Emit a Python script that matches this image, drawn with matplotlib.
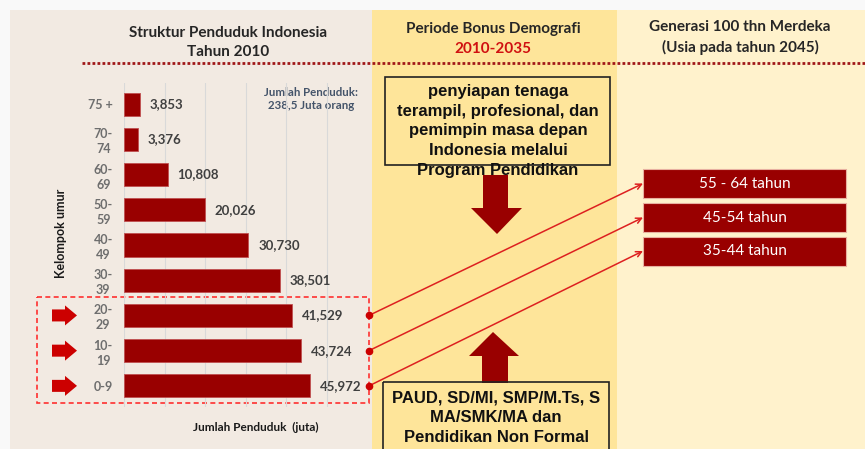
import numpy as np
import matplotlib.pyplot as plt
from matplotlib.patches import Rectangle, Polygon

# data (penduduk dalam ribuan)
age_groups = ['0-9', '10-\n19', '20-\n29', '30-\n39', '40-\n49',
              '50-\n59', '60-\n69', '70-\n74', '75 +']
population = [45972, 43724, 41529, 38501, 30730, 20026, 10808, 3376, 3853]
highlight_rows = [2, 1, 0]
target_groups = ['55 - 64 tahun', '45-54 tahun', '35-44 tahun']
grid_ticks = [0, 10, 20, 30, 40, 50]

top_box_text = ('penyiapan tenaga\nterampil, profesional, dan\npemimpin masa depan\n'
                'Indonesia melalui\nProgram Pendidikan')
bottom_box_text = 'PAUD, SD/MI, SMP/M.Ts, S\nMA/SMK/MA dan\nPendidikan Non Formal'

W, H = 865, 449
DARK_RED = '#990000'
CAL = 'Lato'
ARIAL = 'Liberation Sans'

fig = plt.figure(figsize=(W / 100, H / 100), dpi=100)
fig.patch.set_facecolor('#f9f9f9')

# background axes in pixel coordinates
bg = fig.add_axes([0, 0, 1, 1], zorder=0)
bg.set_xlim(0, W)
bg.set_ylim(H, 0)
bg.axis('off')

bg.add_patch(Rectangle((10, 10), 362, H, color='#f2eae2', lw=0))
bg.add_patch(Rectangle((372, 10), 245, H, color='#fee59a', lw=0))
bg.add_patch(Rectangle((617, 10), W - 617, H, color='#fff2cc', lw=0))

# headers
hdr = dict(ha='center', va='center', fontsize=11, fontweight='bold', family=CAL)
bg.text(228, 33, 'Struktur Penduduk Indonesia', color='#262626', **hdr)
bg.text(228, 52, 'Tahun 2010', color='#262626', **hdr)
bg.text(493, 29, 'Periode Bonus Demografi', color='#262626', **hdr)
bg.text(493, 49, '2010-2035', color='#d01010', **hdr)
bg.text(740, 27, 'Generasi 100 thn Merdeka', color='#262626', **hdr)
bg.text(740, 47, '(Usia pada tahun 2045)', color='#262626', **hdr)
bg.plot([82, W], [63, 63], color='#a01818', lw=2, linestyle=(0, (1, 0.8)))

# bar chart
ax = fig.add_axes([124 / W, 1 - 407 / H, 243 / W, 324 / H], zorder=1)
ax.set_facecolor('none')
y = np.arange(len(age_groups))
vals = np.array(population) / 1000
ax.barh(y, vals, height=0.66, color=DARK_RED, edgecolor='#c05050', lw=0.6, zorder=3)
for yi, v, p in zip(y, vals, population):
    ax.annotate(f'{p:,}', (v, yi), xytext=(7, 0), textcoords='offset points',
                va='center', ha='left', fontsize=9.5, fontweight='bold',
                family=CAL, color='#404040')
ax.set_xlim(0, 60)
ax.set_ylim(-0.6, len(age_groups) - 0.4)
ax.set_xticks(grid_ticks)
ax.set_xticklabels([])
ax.set_yticks(y)
ax.set_yticklabels(age_groups, fontsize=9, fontweight='bold', family=CAL,
                   color='#6e6e6e', multialignment='center', linespacing=1.3)
ax.tick_params(length=0)
ax.tick_params(axis='y', pad=8)
ax.grid(axis='x', color='#d9d9d9', lw=0.8, zorder=0)
for s in ax.spines.values():
    s.set_visible(False)

bg.text(61, 233, 'Kelompok umur', rotation=90, ha='center', va='center',
        fontsize=9, fontweight='bold', family=CAL, color='#1a1a1a')
bg.text(311, 99, 'Jumlah Penduduk:\n238,5 Juta orang', ha='center', va='center',
        fontsize=8.3, fontweight='bold', family=CAL, color='#44546a', linespacing=1.3)
bg.text(256, 427, 'Jumlah Penduduk  (juta)', ha='center', va='center',
        fontsize=8.5, fontweight='bold', family=CAL, color='#1a1a1a')


def to_bg(xv, yv):
    d = ax.transData.transform((xv, yv))
    return bg.transData.inverted().transform(d)


# highlighted rows
bg.add_patch(Rectangle((37, 297), 332, 106, fill=False, edgecolor='#ff3030',
                       lw=1.2, linestyle=(0, (3, 2))))
box_ys = [183.5, 217.5, 251]
for row, label, by in zip(highlight_rows, target_groups, box_ys):
    ry = to_bg(0, row)[1]
    bg.add_patch(Polygon([(52, ry - 6), (65, ry - 6), (65, ry - 10), (77, ry),
                          (65, ry + 10), (65, ry + 6), (52, ry + 6)],
                         closed=True, color='#cc0000', lw=0))
    bg.plot(369, ry, 'o', color='#cc0000', ms=4.5, zorder=5)
    bg.annotate('', xy=(643, by), xytext=(369, ry),
                arrowprops=dict(arrowstyle='->', color='#dd2020', lw=1.1,
                                shrinkA=0, shrinkB=0))
    bg.add_patch(Rectangle((643, by - 14.5), 203, 29, facecolor=DARK_RED,
                           edgecolor='#e8b0a0', lw=0.8))
    bg.text(745, by, label, ha='center', va='center', fontsize=11,
            family=CAL, color='white')

# text boxes and arrows in middle panel
bg.add_patch(Rectangle((385, 77), 225, 88, fill=False, edgecolor='#222222', lw=1.2))
bg.text(498, 131, top_box_text, ha='center', va='center', fontsize=12,
        fontweight='bold', family=ARIAL, color='#111111', linespacing=1.4)
bg.add_patch(Polygon([(483, 175), (508, 175), (508, 208), (522, 208), (497, 234),
                      (471, 208), (483, 208)], closed=True, color=DARK_RED, lw=0))
bg.add_patch(Polygon([(482, 383), (508, 383), (508, 356), (519, 356), (493, 332),
                      (469, 356), (482, 356)], closed=True, color=DARK_RED, lw=0))
bg.add_patch(Rectangle((383, 382), 226, 80, fill=False, edgecolor='#222222', lw=1.2))
bg.text(496, 418, bottom_box_text, ha='center', va='center', fontsize=12,
        fontweight='bold', family=ARIAL, color='#111111', linespacing=1.4)

fig.savefig('out.png', dpi=100, facecolor=fig.get_facecolor())
